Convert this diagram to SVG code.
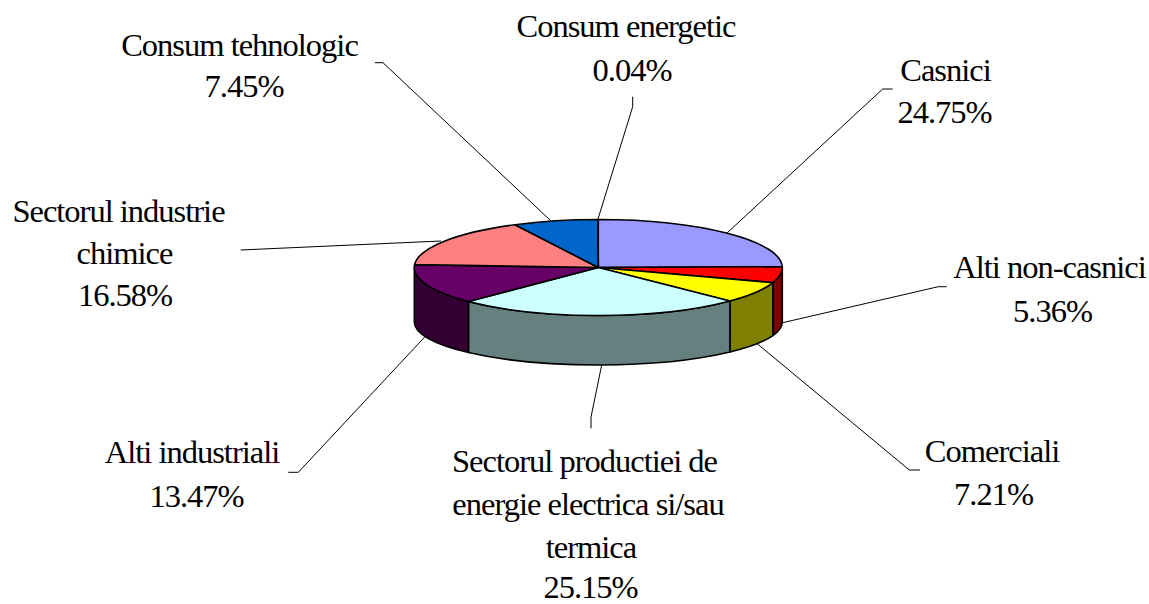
<svg xmlns="http://www.w3.org/2000/svg" width="1149" height="604" viewBox="0 0 1149 604">
<style>
.t{font-family:'Liberation Serif','DejaVu Serif',serif;font-size:32.5px;letter-spacing:-1px;fill:#000;text-anchor:middle}
.s{stroke:#000;stroke-width:1.6;stroke-linejoin:round}
.l{fill:none;stroke:#000;stroke-width:1}
</style>
<rect width="1149" height="604" fill="#fff"/>
<g id="pie">
<g id="sides" class="s">
<path d="M782.3,267.5 A184,48 0 0,1 772.9,282.65 L772.9,335.57 A184,43 0 0,0 782.3,322 Z" fill="#800000"/>
<path d="M772.9,282.65 A184,48 0 0,1 729.91,301.04 L729.91,352.05 A184,43 0 0,0 772.9,335.57 Z" fill="#808000"/>
<path d="M729.91,301.04 A184,48 0 0,1 468.44,301.51 L468.44,352.46 A184,43 0 0,0 729.91,352.05 Z" fill="#668080"/>
<path d="M468.44,301.51 A184,48 0 0,1 414.3,267.5 L414.3,322 A184,43 0 0,0 468.44,352.46 Z" fill="#330033"/>
</g>
<g id="casnici" class="s"><path d="M598.3,267.5 L598.3,219.5 A184,48 0 0,1 782.28,266.75 Z" fill="#9999FF"/></g>
<g id="alti-non-casnici" class="s"><path d="M598.3,267.5 L782.28,266.75 A184,48 0 0,1 772.9,282.65 Z" fill="#FF0000"/></g>
<g id="comerciali" class="s"><path d="M598.3,267.5 L772.9,282.65 A184,48 0 0,1 729.91,301.04 Z" fill="#FFFF00"/></g>
<g id="productie" class="s"><path d="M598.3,267.5 L729.91,301.04 A184,48 0 0,1 468.44,301.51 Z" fill="#CCFFFF"/></g>
<g id="alti-industriali" class="s"><path d="M598.3,267.5 L468.44,301.51 A184,48 0 0,1 414.62,264.67 Z" fill="#660066"/></g>
<g id="chimice" class="s"><path d="M598.3,267.5 L414.62,264.67 A184,48 0 0,1 514.97,224.7 Z" fill="#FF8080"/></g>
<g id="tehnologic" class="s"><path d="M598.3,267.5 L514.97,224.7 A184,48 0 0,1 597.95,219.5 Z" fill="#0066CC"/></g>
<g id="energetic" class="s"><path d="M598.3,267.5 L597.95,219.5" fill="none"/></g>
</g>
<g id="connectors" class="l">
<polyline points="375,62.7 383,62.7 551,221"/>
<polyline points="632.7,96.7 632.7,106.7 597.7,220"/>
<polyline points="892.7,89 882.7,89 726.7,233.3"/>
<polyline points="240.7,250 441,241"/>
<polyline points="946.7,286.7 938.3,286.7 780,323.3"/>
<polyline points="288.3,472.3 298.3,472.3 425,336.7"/>
<polyline points="591,428.3 591,417 601.7,365"/>
<polyline points="920,470 909.3,470 756.7,343.3"/>
</g>
<g id="label-tehnologic"><text class="t" x="239.5" y="55.5">Consum tehnologic</text><text class="t" x="244" y="96.7">7.45%</text></g>
<g id="label-energetic"><text class="t" x="626" y="37.3">Consum energetic</text><text class="t" x="632" y="80.7">0.04%</text></g>
<g id="label-casnici"><text class="t" x="945.5" y="80.7">Casnici</text><text class="t" x="944.5" y="123.3">24.75%</text></g>
<g id="label-chimice"><text class="t" x="118.5" y="221.5">Sectorul industrie</text><text class="t" x="124.5" y="263.5">chimice</text><text class="t" x="125" y="305.5">16.58%</text></g>
<g id="label-non-casnici"><text class="t" x="1049.5" y="278.3">Alti non-casnici</text><text class="t" x="1052.5" y="321.7">5.36%</text></g>
<g id="label-industriali"><text class="t" x="192" y="463.3">Alti industriali</text><text class="t" x="196.5" y="506.5">13.47%</text></g>
<g id="label-productie"><text class="t" x="584.5" y="471.7">Sectorul productiei de</text><text class="t" x="588" y="515">energie electrica si/sau</text><text class="t" x="591" y="558">termica</text><text class="t" x="590.5" y="597.5">25.15%</text></g>
<g id="label-comerciali"><text class="t" x="992" y="461.7">Comerciali</text><text class="t" x="993.5" y="505">7.21%</text></g>
</svg>
